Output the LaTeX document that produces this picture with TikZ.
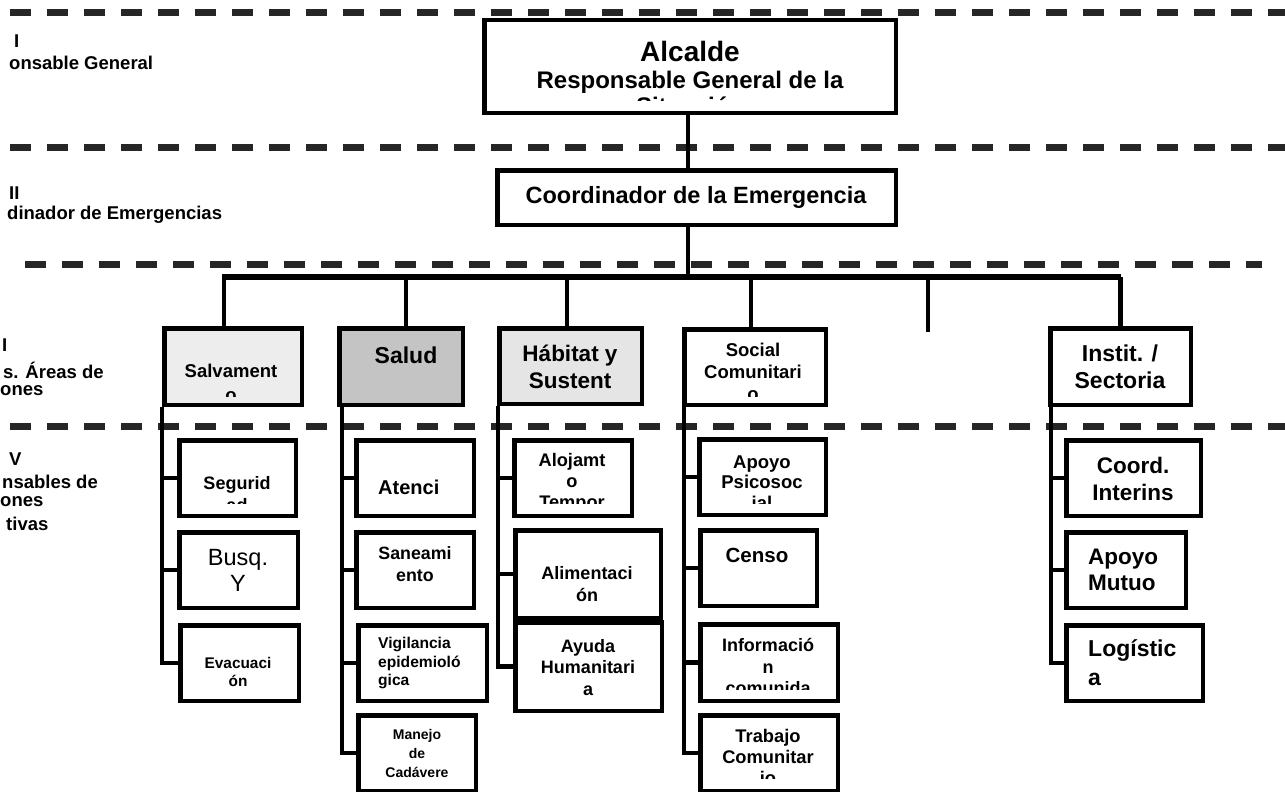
\documentclass[tikz,border=0pt]{standalone}
\usepackage{fontspec}
\setmainfont{Liberation Sans}
\usetikzlibrary{calc}
\tikzset{
 box/.style={draw=black, line width=4.5pt, fill=white, inner sep=0pt},
 conn/.style={draw=black, line width=4.5pt},
 busline/.style={draw=black, line width=6pt},
 level/.style={draw=black!85, line width=7pt, dash pattern=on 21pt off 16pt},
 txt/.style={inner sep=0pt, align=center, text=black},
 lbl/.style={inner sep=0pt, anchor=west, align=left, font={\bfseries\fontsize{18.5}{21}\selectfont}},
}
\newcommand\bx[6]{\node[box,#6,minimum width={(#4-#2-4.5)*1pt},minimum height={(#5-#3-4.5)*1pt}] (#1) at ({(#2+#4)/2},{(#3+#5)/2}) {};}
\newcommand\fsz[2]{\bfseries\fontsize{#1}{#2}\selectfont}
\begin{document}
\begin{tikzpicture}[x=1pt,y=-1pt]
\useasboundingbox (0,0) rectangle (1285,792);
\fill[white] (0,0) rectangle (1285,792);
\begin{scope}
\clip (0,0) rectangle (1285,792);
% level separators
\draw[level] (10,13) -- (1285,13);
\draw[level] (10,147) -- (1285,147);
\draw[level] (25,264) -- (1262,264);
\draw[level] (10,426) -- (1285,426);

% left labels
\node[lbl] (l1a) at (14,41) {I};
\node[lbl] (l1b) at (9,63) {onsable General};
\node[lbl] (l2a) at (9,193) {II};
\node[lbl] (l2b) at (7,215) {dinador de Emergencias};
\node[lbl] (l3a) at (2,345) {I};
\node[lbl] (l3b) at (3,370) {s. Áreas de};
\node[lbl] (l3c) at (0,391) {ones};
\node[lbl] (l4a) at (9,459) {V};
\node[lbl] (l4b) at (2,482) {nsables de};
\node[lbl] (l4c) at (0,502) {ones};
\node[lbl] (l4d) at (6,524) {tivas};

% boxes (geometry only)
\bx{alc}{482}{18}{898}{115}{}
\bx{coord}{495}{168}{898}{227}{}
\bx{salv}{162}{326}{304}{407}{fill=black!7}
\bx{salud}{337}{326}{465}{407}{fill=black!23}
\bx{hab}{497}{326}{644}{406}{fill=black!10}
\bx{soc}{682}{327}{828}{407}{}
\bx{inst}{1048}{326}{1193}{407}{}

\bx{segu}{177}{438}{298}{518}{}
\bx{busq}{177}{530}{300}{610}{}
\bx{evac}{178}{623}{301}{703}{}
\bx{aten}{354}{438}{476}{518}{}
\bx{sane}{354}{530}{476}{610}{}
\bx{vigi}{356}{623}{489}{703}{}
\bx{mane}{356}{713}{478}{793}{}
\bx{aloj}{512}{438}{634}{518}{}
\bx{alim}{513}{528}{663}{620}{}
\bx{ayud}{513}{620}{664}{713}{}
\bx{apoy}{697}{437}{828}{517}{}
\bx{cens}{698}{528}{819}{608}{}
\bx{info}{698}{622}{840}{703}{}
\bx{trab}{698}{713}{840}{793}{}
\bx{coin}{1064}{438}{1203}{518}{}
\bx{mutu}{1064}{530}{1188}{610}{}
\bx{logi}{1064}{623}{1205}{703}{}

\coordinate (bus) at (688,277);
\coordinate (busL) at (222,277);
\coordinate (busR) at (1121,277);
\coordinate (free) at (928,332);

% connectors
\draw[conn] (bus |- alc.south) -- (bus |- coord.north);
\draw[conn] (bus |- coord.south) -- (bus);
\draw[busline] (busL) -- (busR);
\draw[conn] ([xshift=-9pt]salv.north) -- ([xshift=-9pt]salv.north |- bus);
\draw[conn] ([xshift=5pt]salud.north) -- ([xshift=5pt]salud.north |- bus);
\draw[conn] ([xshift=-3.5pt]hab.north) -- ([xshift=-3.5pt]hab.north |- bus);
\draw[conn] ([xshift=-4pt]soc.north) -- ([xshift=-4pt]soc.north |- bus);
\draw[conn] (inst.north) -- (inst.north |- bus);
\draw[conn] (free |- bus) -- (free);

\draw[conn] (salv.south west) -- (salv.south west |- evac.west) -- (evac.west);
\draw[conn] (salv.south west |- segu.west) -- (segu.west);
\draw[conn] (salv.south west |- busq.west) -- (busq.west);

\draw[conn] ([xshift=5pt]salud.south west) -- ([xshift=5pt]salud.south west |- mane.west) -- (mane.west);
\draw[conn] ([xshift=5pt]salud.south west |- aten.west) -- (aten.west);
\draw[conn] ([xshift=5pt]salud.south west |- sane.west) -- (sane.west);
\draw[conn] ([xshift=5pt]salud.south west |- vigi.west) -- (vigi.west);

\draw[conn] ([xshift=1pt]hab.south west) -- ([xshift=1pt]hab.south west |- ayud.west) -- (ayud.west);
\draw[conn] ([xshift=1pt]hab.south west |- aloj.west) -- (aloj.west);
\draw[conn] ([xshift=1pt]hab.south west |- alim.west) -- (alim.west);

\draw[conn] ([xshift=2pt]soc.south west) -- ([xshift=2pt]soc.south west |- trab.west) -- (trab.west);
\draw[conn] ([xshift=2pt]soc.south west |- apoy.west) -- (apoy.west);
\draw[conn] ([xshift=2pt]soc.south west |- cens.west) -- (cens.west);
\draw[conn] ([xshift=2pt]soc.south west |- info.west) -- (info.west);

\draw[conn] ([xshift=3pt]inst.south west) -- ([xshift=3pt]inst.south west |- logi.west) -- (logi.west);
\draw[conn] ([xshift=3pt]inst.south west |- coin.west) -- (coin.west);
\draw[conn] ([xshift=3pt]inst.south west |- mutu.west) -- (mutu.west);
\end{scope}

% texts
\node[txt,font=\fsz{28}{30}] (alcT1) at (690,51) {Alcalde};
\begin{scope}\clip (484,20) rectangle (896,100);
\node[txt,font=\fsz{24}{26}] (alcT2) at (690,93) {Responsable General de la\\Situación};
\end{scope}
\node[txt,font=\fsz{23.5}{26}] (coordT) at (696,197) {Coordinador de la Emergencia};

\begin{scope}\clip (164,328) rectangle (302,396);
\node[txt,font=\fsz{18.5}{24}] (salvT) at (231,383) {Salvament\\o};
\end{scope}
\node[txt,font=\fsz{23}{26}] (saludT) at (406,355) {Salud};
\node[txt,font=\fsz{22.5}{27}] (habT) at (570,367) {Hábitat y\\Sustent};
\begin{scope}\clip (684,329) rectangle (826,396);
\node[txt,font=\fsz{18.5}{22}] (socT) at (753,372) {Social\\Comunitari\\o};
\end{scope}
\node[txt,font=\fsz{23}{27}] (instT) at (1120,367) {Instit. /\\Sectoria};

\begin{scope}\clip (179,440) rectangle (296,503);
\node[txt,font=\fsz{18}{22}] (seguT) at (237,494) {Segurid\\ad};
\end{scope}
\node[txt,font={\fontsize{23.5}{26}\selectfont}] (busqT) at (238,570) {Busq.\\Y};
\node[txt,font=\fsz{15.4}{18}] (evacT) at (238,672) {Evacuaci\\ón};

\begin{scope}\clip (356,440) rectangle (474,499);
\node[txt,align=left,anchor=west,font=\fsz{20}{24}] (atenT) at (378,499) {Atenci\\ón};
\end{scope}
\node[txt,font=\fsz{17.8}{22}] (saneT) at (415,564) {Saneami\\ento};
\node[txt,align=left,anchor=west,font=\fsz{15.6}{18.5}] (vigiT) at (378,663) {Vigilancia\\epidemioló\\gica};
\node[txt,font=\fsz{14}{19}] (maneT) at (417,753) {Manejo\\de\\Cadávere};

\begin{scope}\clip (514,440) rectangle (632,503);
\node[txt,font=\fsz{18.2}{21}] (alojT) at (572,483) {Alojamt\\o\\Tempor};
\end{scope}
\node[txt,font=\fsz{18}{22}] (alimT) at (587,584) {Alimentaci\\ón};
\node[txt,font=\fsz{18}{21.5}] (ayudT) at (588,667.5) {Ayuda\\Humanitari\\a};

\begin{scope}\clip (699,439) rectangle (826,503);
\node[txt,font=\fsz{18.5}{20.5}] (apoyT) at (762,482.5) {Apoyo\\Psicosoc\\ial};
\end{scope}
\node[txt,font=\fsz{20.5}{24}] (censT) at (757,555) {Censo};
\begin{scope}\clip (700,624) rectangle (838,689);
\node[txt,font=\fsz{18}{21.5}] (infoT) at (768,666.5) {Informació\\n\\comunida};
\end{scope}
\begin{scope}\clip (700,715) rectangle (838,778);
\node[txt,font=\fsz{18.3}{21}] (trabT) at (768,757) {Trabajo\\Comunitar\\io};
\end{scope}

\node[txt,font=\fsz{22.5}{27}] (coinT) at (1133,479) {Coord.\\Interins};
\node[txt,align=left,anchor=west,font=\fsz{22.5}{26}] (mutuT) at (1088,570) {Apoyo\\Mutuo};
\node[txt,align=left,anchor=west,font=\fsz{23}{29}] (logiT) at (1088,663) {Logístic\\a};
\end{tikzpicture}
\end{document}
